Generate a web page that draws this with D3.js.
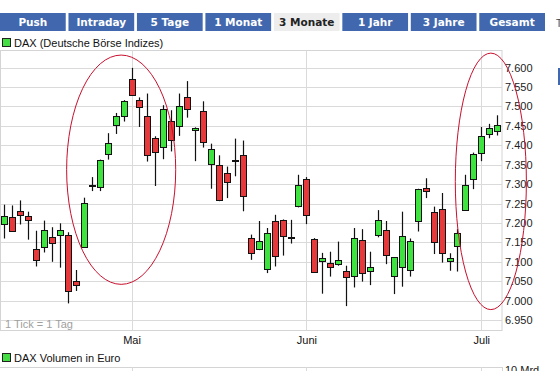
<!DOCTYPE html>
<html>
<head>
<meta charset="utf-8">
<script src="https://cdn.jsdelivr.net/npm/d3@7"></script>
<style>
  body { margin: 0; background: #fff; }
  svg { display: block; font-family: "Liberation Sans", Arial, sans-serif; }
</style>
</head>
<body>
<svg id="chart" width="560" height="371"></svg>
<script>
// DAX daily candles, mid April to early July (one entry per trading day)
const opens  = [7199,7216,7231,7219,7133,7139,7164,7170,7170,7051,7139,7298,7292,7378,7453,7476,7570,7517,7476,7418,7394,7462,7449,7524,7441,7487,7352,7350,7329,7362,7375,7161,7133,7081,7205,7208,7165,7243,7313,7159,7103,7097,7094,7076,7062,7156,7076,7169,7182,7063,7086,7079,7205,7290,7227,7236,7102,7140,7233,7313,7378,7430,7435];
const highs  = [7247,7245,7258,7229,7180,7206,7189,7199,7176,7079,7265,7318,7363,7431,7483,7516,7599,7523,7533,7423,7503,7490,7533,7565,7446,7513,7404,7374,7345,7417,7412,7170,7205,7187,7221,7209,7208,7324,7318,7161,7123,7126,7152,7090,7187,7184,7126,7233,7205,7112,7229,7160,7288,7315,7242,7277,7122,7184,7324,7381,7447,7455,7477];
const lows   = [7160,7178,7196,7157,7088,7124,7100,7085,6993,7025,7137,7282,7282,7363,7429,7461,7527,7447,7358,7295,7364,7384,7424,7471,7359,7394,7288,7256,7264,7320,7230,7105,7130,7071,7088,7116,7147,7240,7197,7073,7018,7062,7090,6986,7034,7049,7040,7163,7094,7017,7036,7062,7178,7264,7120,7098,7077,7075,7233,7287,7359,7418,7425];
const closes = [7219,7180,7221,7208,7104,7182,7148,7182,7027,7040,7252,7298,7361,7406,7476,7515,7529,7499,7375,7381,7492,7412,7501,7494,7445,7407,7391,7259,7306,7362,7270,7122,7153,7174,7115,7166,7165,7298,7221,7073,7110,7086,7104,7060,7161,7071,7086,7208,7117,7112,7166,7153,7288,7283,7150,7122,7109,7174,7298,7378,7423,7445,7451];

// month labels and the trading-day index where each month starts
const months = ['Mai', 'Juni', 'Juli'];
const monthStart = [16, 38, 60];

// price axis ticks
const yTicks = d3.range(6950, 7601, 50);

// tabs above the chart
const tabs = ['Push', 'Intraday', '5 Tage', '1 Monat', '3 Monate', '1 Jahr', '3 Jahre', 'Gesamt'];
const activeTab = '3 Monate';

// red hand drawn ellipses (centre day index / value, radius in days / points)
const marks = [
  { day: 14.7, value: 7337, rday: 6.86, rvalue: 295 },
  { day: 61.2, value: 7307, rday: 4.47, rvalue: 330 }
];

const candles = opens.map((o, i) => ({ i, o, h: highs[i], l: lows[i], c: closes[i] }));

const svg = d3.select('#chart');
const plot = { left: 0, right: 502, top: 50, bottom: 330 };

const x = d3.scaleLinear().domain([0, 62]).range([4.3, 497.2]);
const y = d3.scaleLinear().domain([6950, 7600]).range([320.1, 67.5]);
const de = d3.formatLocale({ decimal: ',', thousands: '.', grouping: [3], currency: ['', '€'] });
const fmt = de.format(',d');

// --- tabs
const tabScale = d3.scaleBand().domain(tabs).range([0, 545]).paddingInner(0.04);
const tab = svg.append('g').selectAll('g').data(tabs).enter().append('g');
tab.append('rect')
    .attr('x', d => tabScale(d))
    .attr('y', 13)
    .attr('width', tabScale.bandwidth())
    .attr('height', 18)
    .attr('fill', d => d === activeTab ? '#ededed' : '#4168ae');
tab.append('text')
    .attr('x', d => tabScale(d) + tabScale.bandwidth() / 2)
    .attr('y', 26)
    .attr('text-anchor', 'middle')
    .style('font-family', 'DejaVu Sans, Verdana, sans-serif')
    .style('font-weight', 'bold')
    .style('font-size', '10.5px')
    .attr('fill', d => d === activeTab ? '#222' : '#fff')
    .text(d => d);

// cut off bits at the right edge
svg.append('rect').attr('x', 558).attr('y', 68).attr('width', 4).attr('height', 17).attr('fill', '#4168ae');
svg.append('text').attr('x', 556).attr('y', 27).style('font-size', '10px').attr('fill', '#444').text('T');

// --- legend
function legend(yy, label) {
  svg.append('rect')
      .attr('x', 2.5).attr('y', yy - 8.5)
      .attr('width', 8).attr('height', 8)
      .attr('fill', '#44dd44').attr('stroke', '#222');
  svg.append('text')
      .attr('x', 14).attr('y', yy)
      .style('font-size', '11px')
      .attr('fill', '#111')
      .text(label);
}
legend(47, 'DAX (Deutsche Börse Indizes)');
legend(362, 'DAX Volumen in Euro');

// --- grid
const grid = svg.append('g');
grid.selectAll('.h').data(yTicks).enter().append('line')
    .attr('x1', plot.left).attr('x2', plot.right)
    .attr('y1', d => Math.round(y(d)) + 0.5).attr('y2', d => Math.round(y(d)) + 0.5)
    .attr('stroke', '#dadada');
grid.selectAll('.v').data(monthStart).enter().append('line')
    .attr('x1', d => Math.round(x(d)) + 0.5).attr('x2', d => Math.round(x(d)) + 0.5)
    .attr('y1', plot.top).attr('y2', plot.bottom)
    .attr('stroke', '#dadada');
grid.append('rect')
    .attr('x', 0.5).attr('y', plot.top + 0.5)
    .attr('width', plot.right - 0.5).attr('height', plot.bottom - plot.top)
    .attr('fill', 'none').attr('stroke', '#d4d4d4');

// lower (volume) panel top edge
svg.append('line')
    .attr('x1', 0).attr('x2', plot.right).attr('y1', 367.5).attr('y2', 367.5)
    .attr('stroke', '#d4d4d4');
svg.selectAll('.vv').data(monthStart).enter().append('line')
    .attr('x1', d => Math.round(x(d)) + 0.5).attr('x2', d => Math.round(x(d)) + 0.5)
    .attr('y1', 367).attr('y2', 371)
    .attr('stroke', '#dadada');
svg.append('line')
    .attr('x1', plot.right + 0.5).attr('x2', plot.right + 0.5).attr('y1', 367).attr('y2', 371)
    .attr('stroke', '#d4d4d4');
svg.append('text')
    .attr('x', 505).attr('y', 374)
    .style('font-size', '11px').attr('fill', '#222')
    .text('10 Mrd');

// --- y axis labels
svg.selectAll('.ylab').data(yTicks).enter().append('text')
    .attr('x', 505)
    .attr('y', d => y(d) + 4)
    .style('font-size', '11px')
    .attr('fill', '#222')
    .text(d => fmt(d));

// --- month labels
svg.selectAll('.mlab').data(months).enter().append('text')
    .attr('x', (d, i) => x(monthStart[i]) + 0.5)
    .attr('y', 344)
    .attr('text-anchor', 'middle')
    .style('font-size', '11px')
    .attr('fill', '#111')
    .text(d => d);

svg.append('text')
    .attr('x', 5).attr('y', 328)
    .style('font-size', '11px')
    .attr('fill', '#a0a0a0')
    .text('1 Tick = 1 Tag');

// --- candles
const cg = svg.append('g').selectAll('g').data(candles).enter().append('g');
const cx = d => Math.round(x(d.i)) + 0.5;

cg.append('line')
    .attr('x1', cx).attr('x2', cx)
    .attr('y1', d => y(d.h)).attr('y2', d => y(d.l))
    .attr('stroke', '#111').attr('stroke-width', 1.2);

cg.append('rect')
    .attr('x', d => cx(d) - 3)
    .attr('y', d => Math.round(y(Math.max(d.o, d.c))) + 0.5)
    .attr('width', 6)
    .attr('height', d => Math.max(1, Math.round(Math.abs(y(d.o) - y(d.c)))))
    .attr('fill', d => d.c > d.o ? '#3fe33f' : d.c < d.o ? '#e6393b' : '#111')
    .attr('stroke', '#111');

// --- red ellipses
svg.selectAll('.ell').data(marks).enter().append('ellipse')
    .attr('cx', d => x(d.day))
    .attr('cy', d => y(d.value))
    .attr('rx', d => x(d.rday) - x(0))
    .attr('ry', d => y(0) - y(d.rvalue))
    .attr('fill', 'none')
    .attr('stroke', '#c8102e')
    .attr('stroke-width', 1);
</script>
</body>
</html>
